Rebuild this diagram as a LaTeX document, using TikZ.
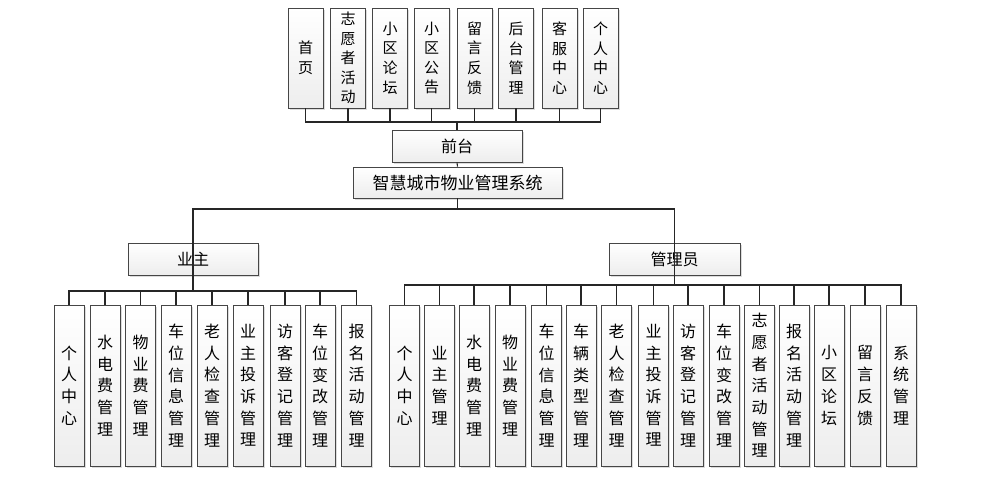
\documentclass[tikz,border=0pt]{standalone}
\usepackage{fontspec}
\newfontfamily\cjk{Noto Sans CJK SC}
\usetikzlibrary{shadows}
\tikzset{
  base/.style={draw=gray!55!black, line width=0.9pt, top color=white, bottom color=gray!14,
    inner sep=0pt, align=center, text=black,
    drop shadow={shadow xshift=1.6pt, shadow yshift=-1.6pt, fill=gray!60, opacity=0.45}},
  topbox/.style={base, minimum width=35pt, minimum height=100pt, font=\cjk\fontsize{15}{19.6}\selectfont},
  vbox/.style={base, minimum width=30pt, minimum height=161pt, font=\cjk\fontsize{16}{21.7}\selectfont},
  hbox/.style={base, minimum height=32pt, font=\cjk\fontsize{16}{20}\selectfont},
  conn/.style={draw=black!85, line width=1.1pt},
}
\begin{document}
\begin{tikzpicture}[x=1pt,y=1pt]
\useasboundingbox (0,0) rectangle (986,-481);
% top row
\node[topbox] (t1) at (305.5,-58) {首\\页};
\node[topbox] (t2) at (348,-58) {志\\愿\\者\\活\\动};
\node[topbox] (t3) at (390,-58) {小\\区\\论\\坛};
\node[topbox] (t4) at (431.5,-58) {小\\区\\公\\告};
\node[topbox] (t5) at (474.5,-58) {留\\言\\反\\馈};
\node[topbox] (t6) at (516,-58) {后\\台\\管\\理};
\node[topbox] (t7) at (559.5,-58) {客\\服\\中\\心};
\node[topbox] (t8) at (600.5,-58) {个\\人\\中\\心};
% middle
\node[hbox, minimum width=130pt] (qt) at (457,-146) {前台};
\node[hbox, minimum width=209pt, minimum height=31pt, font=\cjk\fontsize{17}{20}\selectfont] (sys) at (457.5,-182.5) {智慧城市物业管理系统};
\node[hbox, minimum width=130pt] (yz) at (193,-259) {业主};
\node[hbox, minimum width=131pt] (gly) at (674.5,-259) {管理员};
% left boxes
\node[vbox] (l1) at (69,-385.5) {个\\人\\中\\心};
\node[vbox] (l2) at (105,-385.5) {水\\电\\费\\管\\理};
\node[vbox] (l3) at (140.5,-385.5) {物\\业\\费\\管\\理};
\node[vbox] (l4) at (176,-385.5) {车\\位\\信\\息\\管\\理};
\node[vbox] (l5) at (212,-385.5) {老\\人\\检\\查\\管\\理};
\node[vbox] (l6) at (248,-385.5) {业\\主\\投\\诉\\管\\理};
\node[vbox] (l7) at (285,-385.5) {访\\客\\登\\记\\管\\理};
\node[vbox] (l8) at (320,-385.5) {车\\位\\变\\改\\管\\理};
\node[vbox] (l9) at (356.5,-385.5) {报\\名\\活\\动\\管\\理};
% right boxes
\node[vbox] (r1) at (404.5,-385.5) {个\\人\\中\\心};
\node[vbox] (r2) at (439.5,-385.5) {业\\主\\管\\理};
\node[vbox] (r3) at (474,-385.5) {水\\电\\费\\管\\理};
\node[vbox] (r4) at (510,-385.5) {物\\业\\费\\管\\理};
\node[vbox] (r5) at (546.5,-385.5) {车\\位\\信\\息\\管\\理};
\node[vbox] (r6) at (581,-385.5) {车\\辆\\类\\型\\管\\理};
\node[vbox] (r7) at (616.5,-385.5) {老\\人\\检\\查\\管\\理};
\node[vbox] (r8) at (653.5,-385.5) {业\\主\\投\\诉\\管\\理};
\node[vbox] (r9) at (688,-385.5) {访\\客\\登\\记\\管\\理};
\node[vbox] (r10) at (724,-385.5) {车\\位\\变\\改\\管\\理};
\node[vbox] (r11) at (759.5,-385.5) {志\\愿\\者\\活\\动\\管\\理};
\node[vbox] (r12) at (794,-385.5) {报\\名\\活\\动\\管\\理};
\node[vbox] (r13) at (829,-385.5) {小\\区\\论\\坛};
\node[vbox] (r14) at (865,-385.5) {留\\言\\反\\馈};
\node[vbox] (r15) at (901,-385.5) {系\\统\\管\\理};
% bus coordinates
\coordinate (busT) at (457,-122);
\coordinate (busM) at (457.5,-209);
\coordinate (busL) at (193,-291);
\coordinate (busR) at (674.5,-285);
% connectors
\foreach \n in {t1,t2,t3,t4,t5,t6,t7,t8} \draw[conn] (\n.south) |- (busT);
\draw[conn] (busT) -- (qt.north);
\draw[conn] (qt.south) -- (sys.north);
\draw[conn] (sys.south) -- (busM);
\draw[conn] (busM) -| (yz.north);
\draw[conn] (busM) -| (gly.north);
\draw[conn] (yz.north) -- (busL);
\draw[conn] (gly.north) -- (busR);
\foreach \n in {l1,l2,l3,l4,l5,l6,l7,l8,l9} \draw[conn] (busL) -| (\n.north);
\foreach \n in {r1,r2,r3,r4,r5,r6,r7,r8,r9,r10,r11,r12,r13,r14,r15} \draw[conn] (busR) -| (\n.north);
\end{tikzpicture}
\end{document}
